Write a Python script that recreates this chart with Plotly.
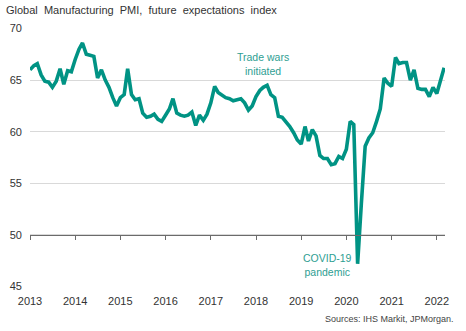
import pandas as pd
import plotly.graph_objects as go

# Monthly values, Jan 2013 - Mar 2022
pmi_2013 = [66.0, 66.4, 66.6, 65.5, 64.9, 64.8, 64.3, 64.9, 66.1, 64.6, 65.9, 65.8]
pmi_2014 = [67.0, 68.0, 68.6, 67.5, 67.4, 67.3, 65.2, 66.0, 65.0, 64.3, 63.3, 62.5]
pmi_2015 = [63.3, 63.6, 66.1, 63.6, 63.1, 63.2, 61.8, 61.4, 61.5, 61.7, 61.2, 61.0]
pmi_2016 = [61.6, 62.2, 63.2, 61.8, 61.6, 61.5, 61.6, 61.9, 60.6, 61.6, 61.1, 61.7]
pmi_2017 = [62.8, 64.4, 63.8, 63.5, 63.3, 63.2, 63.0, 63.1, 63.2, 62.8, 62.1, 62.5]
pmi_2018 = [63.4, 64.0, 64.3, 64.5, 63.6, 63.3, 61.5, 61.4, 61.0, 60.5, 59.9, 59.2]
pmi_2019 = [58.8, 60.5, 59.1, 60.2, 59.6, 57.7, 57.4, 57.4, 56.8, 56.9, 57.6, 57.4]
pmi_2020 = [58.3, 61.0, 60.7, 47.2, 53.0, 58.6, 59.4, 59.9, 61.0, 62.2, 65.2, 64.7]
pmi_2021 = [64.4, 67.2, 66.6, 66.7, 66.7, 65.0, 66.0, 64.2, 64.1, 64.1, 63.4, 64.3]
pmi_2022 = [63.7, 65.2, 66.2]

values = pmi_2013 + pmi_2014 + pmi_2015 + pmi_2016 + pmi_2017 + pmi_2018 + pmi_2019 + pmi_2020 + pmi_2021 + pmi_2022
dates = pd.date_range("2013-01-01", periods=len(values), freq="MS")

year_ticks = [f"{y}-01-01" for y in range(2013, 2023)]
year_labels = [str(y) for y in range(2013, 2023)]
y_ticks = [45, 50, 55, 60, 65, 70]

title_text = "Global  Manufacturing  PMI,  future  expectations  index"
source_text = "Sources: IHS Markit, JPMorgan."
ann1 = "Trade wars<br>initiated"
ann2 = "COVID-19<br>pandemic"

teal = "#009384"
teal_text = "#2E9E92"
font_family = "Liberation Sans, Arial, sans-serif"

x_range = ["2013-01-01", "2022-03-08"]

fig = go.Figure()
fig.add_trace(go.Scatter(
    x=dates, y=values, mode="lines",
    line=dict(color=teal, width=3.6),
    hoverinfo="skip", showlegend=False,
))
# invisible trace carrying the axis drawn at y=50
fig.add_trace(go.Scatter(x=[dates[0]], y=[None], xaxis="x2", yaxis="y",
                         mode="lines", showlegend=False, hoverinfo="skip"))

fig.update_layout(
    width=466, height=331,
    margin=dict(l=30, r=21, t=28, b=44),
    paper_bgcolor="white", plot_bgcolor="white",
    font=dict(family=font_family, size=11, color="#333333"),
    xaxis=dict(
        type="date", range=x_range, automargin=False,
        tickvals=year_ticks, ticktext=year_labels,
        showgrid=False, zeroline=False, showline=False, ticks="",
        ticklabelstandoff=6,
        tickfont=dict(size=11, color="#333333"),
    ),
    xaxis2=dict(
        type="date", range=x_range, overlaying="x", anchor="free",
        position=0.2, side="bottom", automargin=False,
        tickvals=year_ticks, showticklabels=False,
        showgrid=False, zeroline=False,
        showline=True, linecolor="#6b6b6b", linewidth=1,
        ticks="outside", ticklen=4, tickcolor="#6b6b6b", tickwidth=1,
    ),
    yaxis=dict(
        range=[44.95, 70.05], tickvals=y_ticks, automargin=False,
        showgrid=True, gridcolor="#d9d9d9", gridwidth=1,
        zeroline=False, showline=False, ticks="",
        ticklabelstandoff=7,
        tickfont=dict(size=11, color="#333333"),
    ),
    annotations=[
        dict(text=title_text, xref="paper", yref="paper", x=-0.063, y=1.0,
             yshift=18, xanchor="left", yanchor="middle", showarrow=False,
             font=dict(size=11, color="#333333")),
        dict(text=ann1, x="2018-03-01", y=66.55, xref="x", yref="y",
             showarrow=False, font=dict(size=10.5, color=teal_text)),
        dict(text=ann2, x="2019-08-01", y=47.1, xref="x", yref="y",
             showarrow=False, font=dict(size=10.5, color=teal_text)),
        dict(text=source_text, xref="paper", yref="paper", x=1.0, y=0,
             xanchor="right", yanchor="middle", yshift=-32, xshift=11,
             showarrow=False, font=dict(size=9, color="#444444")),
    ],
)

fig.write_html("out.html")
